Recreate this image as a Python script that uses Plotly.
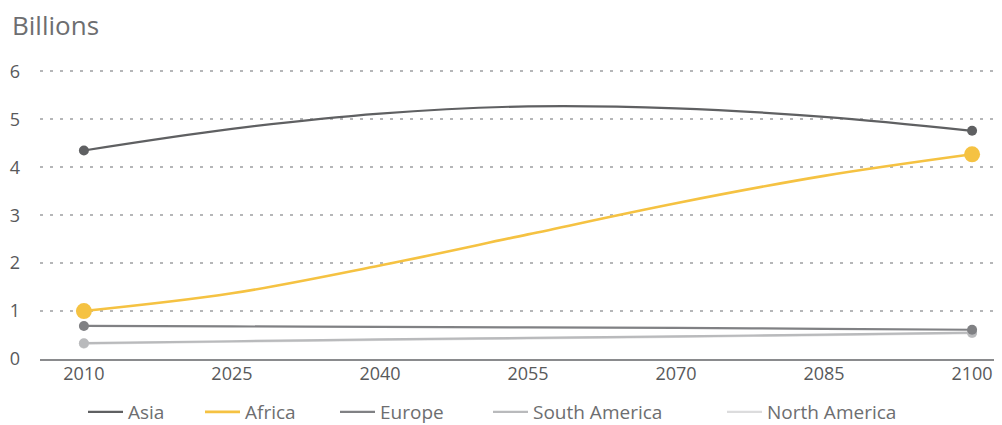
import plotly.graph_objects as go

years = [2010, 2025, 2040, 2055, 2070, 2085, 2100]
asia = [4.35, 4.80, 5.12, 5.27, 5.23, 5.05, 4.76]
africa = [1.00, 1.37, 1.95, 2.60, 3.25, 3.82, 4.27]
europe = [0.69, 0.68, 0.67, 0.66, 0.65, 0.63, 0.61]
south_america = [0.33, 0.37, 0.41, 0.44, 0.47, 0.51, 0.55]
north_america = [0.32, 0.36, 0.40, 0.43, 0.46, 0.50, 0.54]

series = [
    ("Asia", asia, "#5f6062", 2.2, 10, "legend"),
    ("Africa", africa, "#f5c242", 2.6, 16, "legend2"),
    ("Europe", europe, "#808184", 2.2, 10, "legend3"),
    ("South America", south_america, "#b9babc", 2.2, 10, "legend4"),
    ("North America", north_america, "#dcdcdd", 2.2, 10, "legend5"),
]

fig = go.Figure()
for name, vals, color, lw, ms, lg in reversed(series):
    fig.add_trace(go.Scatter(
        x=years, y=vals, name=name, mode="lines",
        line=dict(color=color, width=lw, shape="spline", smoothing=1.0),
        legend=lg, showlegend=True,
    ))
    fig.add_trace(go.Scatter(
        x=[years[0], years[-1]], y=[vals[0], vals[-1]], mode="markers",
        marker=dict(size=ms, color=color, line=dict(width=0)),
        showlegend=False, hoverinfo="skip",
    ))

font_family = "Open Sans, Lato, sans-serif"
W, H = 994, 417
legend_x = {"legend": 75, "legend2": 192, "legend3": 327, "legend4": 480, "legend5": 714}
layout_legends = {}
for key, px in legend_x.items():
    layout_legends[key] = dict(
        x=px / W, y=1 - 404 / H, xref="container", yref="container",
        xanchor="left", yanchor="middle", orientation="h",
        font=dict(family=font_family, size=19, color="#6d6e70"),
        bgcolor="rgba(0,0,0,0)", itemwidth=35, tracegroupgap=0,
    )

plot_left, plot_w, plot_bottom, plot_h = 30, 962, 351, 302

fig.update_layout(
    width=W, height=H,
    margin=dict(l=30, r=2, t=49, b=66),
    paper_bgcolor="white", plot_bgcolor="white",
    font=dict(family=font_family, size=18, color="#58595b"),
    showlegend=True,
    annotations=[dict(
        text="Billions", x=(1 - plot_left) / plot_w, y=(plot_bottom - 17) / plot_h,
        xref="paper", yref="paper", borderpad=0,
        xanchor="left", yanchor="middle", showarrow=False,
        font=dict(family=font_family, size=26, color="#6d6e70"),
    )],
    **layout_legends,
)

fig.update_xaxes(
    range=[2005.55, 2102.83], tickvals=years, ticktext=[str(y) for y in years],
    showgrid=False, zeroline=False, showline=True, linecolor="#8a8b8d", linewidth=2,
    ticks="", ticklabelstandoff=-3, tickfont=dict(size=18, color="#58595b"),
    fixedrange=True,
)
fig.update_yaxes(
    range=[0, 6.3], tickvals=[0, 1, 2, 3, 4, 5, 6],
    showgrid=True, gridcolor="#b5b6b8", gridwidth=2, griddash="3px,7px",
    zeroline=False, showline=False, ticks="", ticklabelstandoff=19,
    tickfont=dict(size=18, color="#58595b"), fixedrange=True,
)

fig.write_html("out.html")
